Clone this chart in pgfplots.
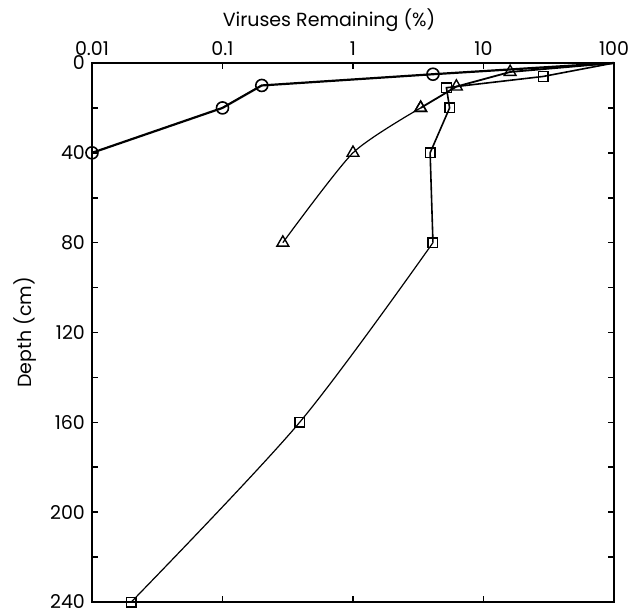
\documentclass[border=0pt]{standalone}
\usepackage{pgfplots}
\pgfplotsset{compat=1.18}
\usepackage{fontspec}
\setmainfont{Poppins}

\begin{document}
\begin{tikzpicture}
\begin{axis}[
    name=ax,
    scale only axis,
    width=261pt, height=269.5pt,
    xmode=log,
    xmin=0.01, xmax=100,
    xtick={0.01,0.1,1,10,100},
    xticklabels={0.01,0.1,1,10,100},
    xminorticks=false,
    xticklabel pos=top,
    xlabel={Viruses Remaining (\%)},
    xlabel style={xshift=-12pt, yshift=-1.5pt},
    y dir=reverse,
    ymin=0, ymax=240,
    ytick={0,40,...,240},
    minor ytick={20,60,...,220},
    ylabel={Depth (cm)},
    ylabel style={yshift=0pt},
    tick align=inside,
    major tick length=3pt,
    minor tick length=3pt,
    axis line style={line width=1.2pt},
    every tick/.style={line width=0.8pt, black},
    tick label style={font=\fontsize{9.5}{11}\selectfont},
    label style={font=\fontsize{9.5}{11}\selectfont},
    /pgf/number format/assume math mode=true,
    clip=false,
]
% circles
\addplot[black, line width=1.1pt, mark=o, mark size=3pt, mark phase=2,
    mark options={fill=white, line width=0.8pt}] coordinates {
    (100,0) (4.1,5) (0.2,10) (0.1,20) (0.01,40)
};
% triangles, straight part
\addplot[black, line width=0.9pt, mark=triangle, mark size=3.4pt, mark phase=2,
    mark options={fill=white, line width=0.7pt}] coordinates {
    (100,0) (16,4) (6.2,10.5) (3.3,20)
};
% triangles, curved part
\addplot[black, line width=0.6pt, smooth, tension=0.4, mark=triangle, mark size=3.4pt,
    mark options={fill=white, line width=0.7pt}] coordinates {
    (3.3,20) (1,40) (0.29,80)
};
% squares, straight part
\addplot[black, line width=0.8pt, mark=square, mark size=2.4pt, mark phase=2,
    mark options={fill=white, line width=0.7pt}] coordinates {
    (100,0) (28.6,6) (5.2,11) (5.5,20) (3.9,40) (4.1,80)
};
% squares, curved part
\addplot[black, line width=0.6pt, smooth, tension=0.5, mark=square, mark size=2.4pt,
    mark options={fill=white, line width=0.7pt}] coordinates {
    (4.1,80) (0.39,160) (0.02,240)
};
\end{axis}
\pgfresetboundingbox
\path ([shift={(-46pt,-3pt)}]ax.south west) rectangle ([shift={(11pt,31.5pt)}]ax.north east);
\end{tikzpicture}
\end{document}
